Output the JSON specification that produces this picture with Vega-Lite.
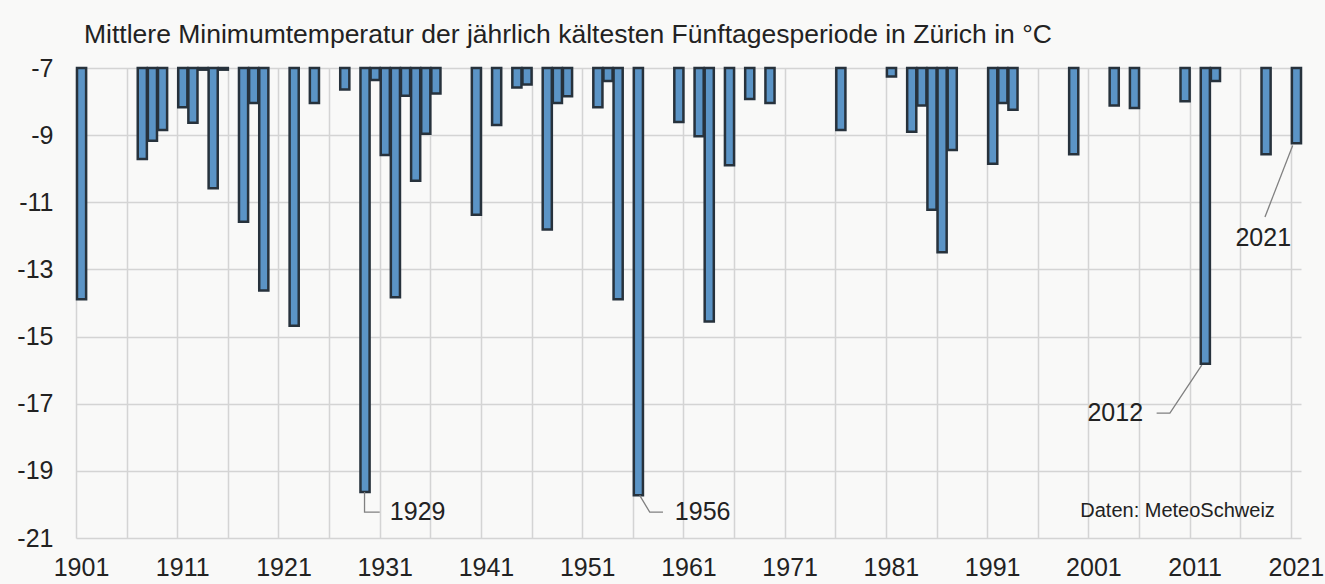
{
  "$schema": "https://vega.github.io/schema/vega-lite/v6.json",
  "width": 1225,
  "height": 470,
  "autosize": "none",
  "padding": {"left": 76, "top": 68, "right": 24, "bottom": 46},
  "background": "#f9f9f8",
  "config": {"view": {"stroke": null}},
  "title": {
    "text": "Mittlere Minimumtemperatur der jährlich kältesten Fünftagesperiode in Zürich in °C",
    "anchor": "start",
    "frame": "group",
    "offset": 8,
    "dx": 8,
    "font": "Liberation Sans",
    "fontSize": 26.5,
    "fontWeight": "normal",
    "color": "#222222"
  },
  "datasets": {
    "temps": [
      {"year": 1901, "temp": -13.89}, {"year": 1907, "temp": -9.71}, {"year": 1908, "temp": -9.17},
      {"year": 1909, "temp": -8.85}, {"year": 1911, "temp": -8.17}, {"year": 1912, "temp": -8.63},
      {"year": 1913, "temp": -7.05}, {"year": 1914, "temp": -10.58}, {"year": 1915, "temp": -7.05},
      {"year": 1917, "temp": -11.58}, {"year": 1918, "temp": -8.04}, {"year": 1919, "temp": -13.63},
      {"year": 1922, "temp": -14.68}, {"year": 1924, "temp": -8.04}, {"year": 1927, "temp": -7.64},
      {"year": 1929, "temp": -19.63}, {"year": 1930, "temp": -7.36}, {"year": 1931, "temp": -9.59},
      {"year": 1932, "temp": -13.83}, {"year": 1933, "temp": -7.83}, {"year": 1934, "temp": -10.36},
      {"year": 1935, "temp": -8.96}, {"year": 1936, "temp": -7.76}, {"year": 1940, "temp": -11.37},
      {"year": 1942, "temp": -8.70}, {"year": 1944, "temp": -7.58}, {"year": 1945, "temp": -7.49},
      {"year": 1947, "temp": -11.81}, {"year": 1948, "temp": -8.04}, {"year": 1949, "temp": -7.84},
      {"year": 1952, "temp": -8.17}, {"year": 1953, "temp": -7.39}, {"year": 1954, "temp": -13.89},
      {"year": 1956, "temp": -19.73}, {"year": 1960, "temp": -8.61}, {"year": 1962, "temp": -9.03},
      {"year": 1963, "temp": -14.55}, {"year": 1965, "temp": -9.90}, {"year": 1967, "temp": -7.92},
      {"year": 1969, "temp": -8.04}, {"year": 1976, "temp": -8.85}, {"year": 1981, "temp": -7.25},
      {"year": 1983, "temp": -8.90}, {"year": 1984, "temp": -8.12}, {"year": 1985, "temp": -11.22},
      {"year": 1986, "temp": -12.49}, {"year": 1987, "temp": -9.44}, {"year": 1991, "temp": -9.85},
      {"year": 1992, "temp": -8.04}, {"year": 1993, "temp": -8.24}, {"year": 1999, "temp": -9.57},
      {"year": 2003, "temp": -8.12}, {"year": 2005, "temp": -8.19}, {"year": 2010, "temp": -7.99},
      {"year": 2012, "temp": -15.81}, {"year": 2013, "temp": -7.39}, {"year": 2018, "temp": -9.57},
      {"year": 2021, "temp": -9.24}
    ],
    "leaders": [
      {"label": "1929", "step": 1, "x": 1929.5, "y": -19.63},
      {"label": "1929", "step": 2, "x": 1929.5, "y": -20.23},
      {"label": "1929", "step": 3, "x": 1931.0, "y": -20.23},
      {"label": "1956", "step": 1, "x": 1956.68, "y": -19.73},
      {"label": "1956", "step": 2, "x": 1957.67, "y": -20.23},
      {"label": "1956", "step": 3, "x": 1958.98, "y": -20.23},
      {"label": "2012", "step": 1, "x": 2007.74, "y": -17.28},
      {"label": "2012", "step": 2, "x": 2009.05, "y": -17.28},
      {"label": "2012", "step": 3, "x": 2012.2, "y": -15.85},
      {"label": "2021", "step": 1, "x": 2018.44, "y": -11.44},
      {"label": "2021", "step": 2, "x": 2021.18, "y": -9.31}
    ]
  },
  "layer": [
    {
      "data": {"name": "temps"},
      "mark": {"type": "bar", "fill": "#5b94c6", "stroke": "#27323c", "strokeWidth": 2.5},
      "encoding": {
        "x": {
          "field": "year",
          "type": "quantitative",
          "bin": {"step": 1, "extent": [1901, 2022]},
          "scale": {"domain": [1901, 2022], "nice": false},
          "axis": {
            "title": null,
            "values": [1901, 1906, 1911, 1916, 1921, 1926, 1931, 1936, 1941, 1946, 1951, 1956, 1961, 1966, 1971, 1976, 1981, 1986, 1991, 1996, 2001, 2006, 2011, 2016, 2021],
            "labelExpr": "(datum.value - 1901) % 10 == 0 ? '' + datum.value : ''",
            "ticks": false,
            "tickSize": 0,
            "domain": false,
            "grid": true,
            "gridColor": "#d4d4d4",
            "gridWidth": 1.5,
            "labelFont": "Liberation Sans",
            "labelFontSize": 25,
            "labelColor": "#222222",
            "labelPadding": 17,
            "labelOffset": 5,
            "labelOverlap": false,
            "labelFlush": false,
            "labelBound": false
          }
        },
        "y": {
          "field": "temp",
          "type": "quantitative",
          "scale": {"domain": [-21, -7], "nice": false, "zero": false},
          "axis": {
            "title": null,
            "values": [-7, -9, -11, -13, -15, -17, -19, -21],
            "labelExpr": "'' + datum.value",
            "ticks": false,
            "tickSize": 0,
            "domain": false,
            "grid": true,
            "gridColor": "#d4d4d4",
            "gridWidth": 1.5,
            "labelFont": "Liberation Sans",
            "labelFontSize": 25,
            "labelColor": "#222222",
            "labelPadding": 23,
            "labelOverlap": false,
            "labelFlush": false,
            "labelBound": false
          }
        },
        "y2": {"datum": -7}
      }
    },
    {
      "data": {"name": "leaders"},
      "mark": {"type": "line", "color": "#808080", "strokeWidth": 1.3},
      "encoding": {
        "x": {"field": "x", "type": "quantitative"},
        "y": {"field": "y", "type": "quantitative"},
        "detail": {"field": "label"},
        "order": {"field": "step"}
      }
    },
    {
      "data": {"values": [{"x": 1932.0, "y": -20.23, "label": "1929"}, {"x": 1960.15, "y": -20.23, "label": "1956"}]},
      "mark": {"type": "text", "align": "left", "baseline": "middle", "font": "Liberation Sans", "fontSize": 25, "color": "#222222"},
      "encoding": {
        "x": {"field": "x", "type": "quantitative"},
        "y": {"field": "y", "type": "quantitative"},
        "text": {"field": "label"}
      }
    },
    {
      "data": {"values": [{"x": 2006.4, "y": -17.28, "label": "2012"}]},
      "mark": {"type": "text", "align": "right", "baseline": "middle", "font": "Liberation Sans", "fontSize": 25, "color": "#222222"},
      "encoding": {
        "x": {"field": "x", "type": "quantitative"},
        "y": {"field": "y", "type": "quantitative"},
        "text": {"field": "label"}
      }
    },
    {
      "data": {"values": [{"x": 2018.27, "y": -12.05, "label": "2021"}]},
      "mark": {"type": "text", "align": "center", "baseline": "middle", "font": "Liberation Sans", "fontSize": 25, "color": "#222222"},
      "encoding": {
        "x": {"field": "x", "type": "quantitative"},
        "y": {"field": "y", "type": "quantitative"},
        "text": {"field": "label"}
      }
    },
    {
      "data": {"values": [{"x": 2000.2, "y": -20.2, "label": "Daten: MeteoSchweiz"}]},
      "mark": {"type": "text", "align": "left", "baseline": "middle", "font": "Liberation Sans", "fontSize": 20, "color": "#222222"},
      "encoding": {
        "x": {"field": "x", "type": "quantitative"},
        "y": {"field": "y", "type": "quantitative"},
        "text": {"field": "label"}
      }
    }
  ]
}
